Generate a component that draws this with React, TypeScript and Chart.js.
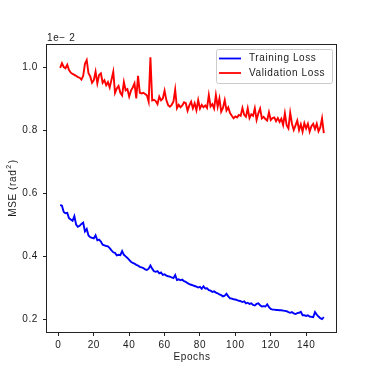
import React, { useEffect, useRef } from "react";
import { Chart, registerables } from "chart.js";

Chart.register(...registerables);

// Values are in units of 1e-2 (matplotlib offset text "1e−2")
const OFFSET_TEXT = "1e\u2212 2";
const X_TITLE = "Epochs";
const Y_TITLE_MAIN = "MSE (rad";
const Y_TITLE_SUP = "2";
const Y_TITLE_END = ")";
const SERIES_LABELS = ["Training Loss", "Validation Loss"];
const X_TICKS = [0, 20, 40, 60, 80, 100, 120, 140];
const Y_TICKS = [0.2, 0.4, 0.6, 0.8, 1.0];

const trainingLoss = [
  0.562, 0.560, 0.540, 0.536, 0.537, 0.520, 0.516, 0.512, 0.527, 0.500,
  0.493, 0.496, 0.502, 0.506, 0.478, 0.486, 0.465, 0.460, 0.458, 0.456,
  0.466, 0.450, 0.452, 0.446, 0.436, 0.434, 0.432, 0.431, 0.425, 0.418,
  0.412, 0.410, 0.402, 0.404, 0.403, 0.416, 0.404, 0.399, 0.394, 0.388,
  0.382, 0.378, 0.376, 0.372, 0.370, 0.366, 0.364, 0.362, 0.358, 0.356,
  0.360, 0.370, 0.360, 0.352, 0.350, 0.352, 0.345, 0.348, 0.340, 0.342,
  0.338, 0.336, 0.335, 0.332, 0.330, 0.340, 0.324, 0.326, 0.323, 0.325,
  0.320, 0.318, 0.314, 0.311, 0.309, 0.307, 0.305, 0.303, 0.300, 0.302,
  0.296, 0.304, 0.297, 0.298, 0.292, 0.290, 0.286, 0.288, 0.284, 0.282,
  0.278, 0.276, 0.272, 0.274, 0.280, 0.272, 0.266, 0.265, 0.263, 0.262,
  0.260, 0.258, 0.257, 0.254, 0.256, 0.250, 0.252, 0.248, 0.250, 0.245,
  0.243, 0.248, 0.250, 0.244, 0.240, 0.241, 0.240, 0.247, 0.238, 0.232,
  0.230, 0.230, 0.229, 0.229, 0.228, 0.228, 0.227, 0.226, 0.225, 0.222,
  0.220, 0.222, 0.218, 0.216, 0.219, 0.220, 0.223, 0.212, 0.212, 0.210,
  0.212, 0.208, 0.207, 0.206, 0.222, 0.214, 0.208, 0.203, 0.200, 0.206,
];

const validationLoss = [
  0.997, 1.012, 1.000, 0.996, 1.007, 0.990, 0.982, 0.978, 0.975, 0.972,
  0.968, 0.966, 0.960, 0.972, 1.010, 1.022, 0.980, 0.970, 0.950, 0.958,
  0.985, 0.948, 0.975, 0.980, 0.950, 0.958, 0.942, 0.952, 0.935, 0.960,
  0.985, 0.918, 0.932, 0.940, 0.918, 0.910, 0.952, 0.926, 0.930, 0.906,
  0.925, 0.935, 0.948, 0.900, 0.972, 0.918, 0.916, 0.918, 0.914, 0.910,
  0.890, 1.031, 0.894, 0.896, 0.892, 0.882, 0.906, 0.894, 0.900, 0.925,
  0.895, 0.879, 0.874, 0.880, 0.890, 0.928, 0.869, 0.880, 0.872, 0.878,
  0.888, 0.885, 0.861, 0.878, 0.890, 0.869, 0.885, 0.863, 0.895, 0.868,
  0.880, 0.872, 0.878, 0.870, 0.911, 0.875, 0.882, 0.868, 0.911, 0.874,
  0.900, 0.858, 0.870, 0.895, 0.862, 0.872, 0.854, 0.845, 0.837, 0.843,
  0.840, 0.848, 0.845, 0.870, 0.848, 0.842, 0.869, 0.838, 0.850, 0.845,
  0.869, 0.832, 0.853, 0.868, 0.837, 0.842, 0.835, 0.830, 0.856, 0.832,
  0.838, 0.840, 0.828, 0.838, 0.826, 0.836, 0.816, 0.853, 0.815, 0.805,
  0.855, 0.820, 0.800, 0.815, 0.830, 0.800, 0.818, 0.795, 0.822, 0.805,
  0.820, 0.795, 0.812, 0.820, 0.803, 0.820, 0.796, 0.808, 0.837, 0.790,
];

const epochs = trainingLoss.map((_, i) => i + 1);

const FONT = "'Liberation Sans', Arial, sans-serif";
const LETTER_SPACING = "0.6px";
const TEXT_COLOR = "#1a1a1a";

const framePlugin = {
  id: "frameAndExtras",
  beforeDraw(chart: any) {
    const ctx = chart.ctx;
    ctx.save();
    ctx.fillStyle = "#ffffff";
    ctx.fillRect(0, 0, chart.width, chart.height);
    ctx.restore();
    (ctx as any).letterSpacing = LETTER_SPACING;
  },
  afterDraw(chart: any) {
    const ctx = chart.ctx;
    const a = chart.chartArea;
    ctx.save();
    (ctx as any).letterSpacing = LETTER_SPACING;
    // frame
    ctx.strokeStyle = "#222222";
    ctx.lineWidth = 1;
    ctx.strokeRect(Math.round(a.left) - 0.5, Math.round(a.top) + 0.5, Math.round(a.right - a.left), Math.round(a.bottom - a.top));
    // offset text
    ctx.fillStyle = TEXT_COLOR;
    ctx.font = `10px ${FONT}`;
    ctx.textAlign = "left";
    ctx.textBaseline = "middle";
    ctx.fillText(OFFSET_TEXT, a.left, a.top - 6);
    // y-axis title with superscript
    ctx.save();
    const cy = (a.top + a.bottom) / 2;
    ctx.translate(13, cy);
    ctx.rotate(-Math.PI / 2);
    ctx.font = `10px ${FONT}`;
    const w1 = ctx.measureText(Y_TITLE_MAIN).width;
    ctx.font = `7px ${FONT}`;
    const w2 = ctx.measureText(Y_TITLE_SUP).width;
    ctx.font = `10px ${FONT}`;
    const w3 = ctx.measureText(Y_TITLE_END).width;
    const total = w1 + w2 + w3 + 2;
    let x0 = -total / 2;
    ctx.textAlign = "left";
    ctx.textBaseline = "middle";
    ctx.fillText(Y_TITLE_MAIN, x0, 0);
    x0 += w1 + 1;
    ctx.font = `7px ${FONT}`;
    ctx.fillText(Y_TITLE_SUP, x0, -3.5);
    x0 += w2 + 1;
    ctx.font = `10px ${FONT}`;
    ctx.fillText(Y_TITLE_END, x0, 0);
    ctx.restore();
    // legend
    const bx = 216, by = 49, bw = 116, bh = 34;
    ctx.fillStyle = "rgba(255,255,255,0.8)";
    ctx.strokeStyle = "#cccccc";
    ctx.lineWidth = 1;
    ctx.beginPath();
    (ctx as any).roundRect(bx + 0.5, by + 0.5, bw, bh, 2);
    ctx.fill();
    ctx.stroke();
    chart.data.datasets.forEach((ds: any, i: number) => {
      const y = 58.5 + i * 14.5;
      ctx.strokeStyle = ds.borderColor;
      ctx.lineWidth = 1.8;
      ctx.beginPath();
      ctx.moveTo(219, y);
      ctx.lineTo(241, y);
      ctx.stroke();
      ctx.fillStyle = TEXT_COLOR;
      ctx.font = `10px ${FONT}`;
      ctx.textAlign = "left";
      ctx.textBaseline = "middle";
      ctx.fillText(ds.label, 249, y);
    });
    ctx.restore();
  },
};

export default function App() {
  const ref = useRef<HTMLCanvasElement>(null);
  useEffect(() => {
    if (!ref.current) return;
    const chart = new Chart(ref.current, {
      type: "line",
      data: {
        datasets: [
          {
            label: SERIES_LABELS[0],
            data: epochs.map((e, i) => ({ x: e, y: trainingLoss[i] })),
            borderColor: "#0000ff",
            backgroundColor: "#0000ff",
            borderWidth: 1.9,
            pointRadius: 0,
            tension: 0,
          },
          {
            label: SERIES_LABELS[1],
            data: epochs.map((e, i) => ({ x: e, y: validationLoss[i] })),
            borderColor: "#ff0000",
            backgroundColor: "#ff0000",
            borderWidth: 1.9,
            pointRadius: 0,
            tension: 0,
          },
        ],
      },
      options: {
        animation: false,
        responsive: false,
        maintainAspectRatio: false,
        layout: { padding: { top: 44, right: 37, left: 0, bottom: 0 } },
        plugins: { legend: { display: false }, tooltip: { enabled: false } },
        scales: {
          x: {
            type: "linear",
            min: -6.45,
            max: 157.45,
            afterBuildTicks: (axis: any) => {
              axis.ticks = X_TICKS.map((v) => ({ value: v }));
            },
            afterFit: (scale: any) => {
              scale.height = 42;
            },
            grid: { drawOnChartArea: false, drawTicks: true, tickLength: 4, color: "#222222" },
            border: { display: false },
            ticks: {
              color: TEXT_COLOR,
              padding: 3,
              maxRotation: 0,
              autoSkip: false,
              font: { family: FONT, size: 10 },
            },
            title: {
              display: true,
              text: X_TITLE,
              color: TEXT_COLOR,
              font: { family: FONT, size: 10 },
              padding: { top: 0, bottom: 11 },
            },
          },
          y: {
            type: "linear",
            min: 0.159,
            max: 1.073,
            afterBuildTicks: (axis: any) => {
              axis.ticks = Y_TICKS.map((v) => ({ value: v }));
            },
            afterFit: (scale: any) => {
              scale.width = 47;
            },
            grid: { drawOnChartArea: false, drawTicks: true, tickLength: 4, color: "#222222" },
            border: { display: false },
            ticks: {
              color: TEXT_COLOR,
              padding: 5,
              autoSkip: false,
              font: { family: FONT, size: 10 },
              callback: (v: any) => Number(v).toFixed(1),
            },
            title: { display: false },
          },
        },
      },
      plugins: [framePlugin],
    });
    return () => chart.destroy();
  }, []);
  return (
    <div style={{ position: "fixed", left: 0, top: 0, width: 374, height: 374, background: "#fff" }}>
      <canvas ref={ref} width={374} height={374} style={{ width: 374, height: 374, display: "block" }} />
    </div>
  );
}
